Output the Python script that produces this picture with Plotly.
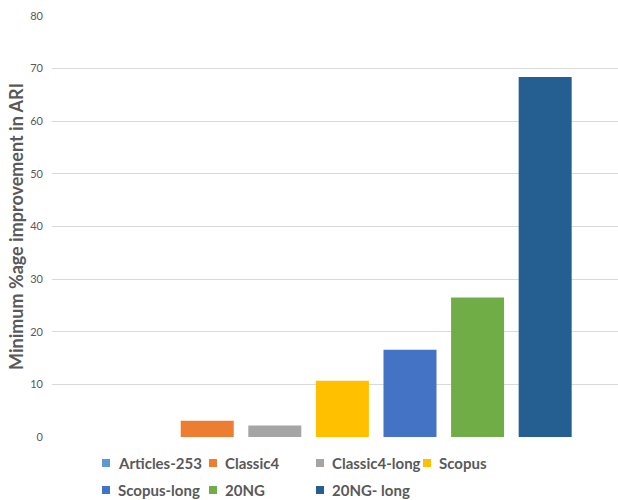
import plotly.graph_objects as go

# Minimum percentage improvement in ARI per dataset
datasets = ["Articles-253", "Classic4", "Classic4-long", "Scopus",
            "Scopus-long", "20NG", "20NG- long"]
improvement = [0.0, 3.1, 2.2, 10.7, 16.6, 26.5, 68.4]
colors = ["#5B9BD5", "#ED7D31", "#A5A5A5", "#FFC000",
          "#4472C4", "#70AD47", "#255E91"]
y_ticks = [0, 10, 20, 30, 40, 50, 60, 70, 80]

TEXT = "#595959"
FONT = "Lato"
W, H = 618, 500
M_L, M_R, M_T, M_B = 52, 0, 16, 63
PLOT_W = W - M_L - M_R
PLOT_H = H - M_T - M_B


def px_x(x):
    """Pixel column -> paper x."""
    return (x - M_L) / PLOT_W


def px_y(y):
    """Pixel row (from top) -> paper y."""
    return (H - M_B - y) / PLOT_H


fig = go.Figure()
for name, val, col in zip(datasets, improvement, colors):
    fig.add_trace(go.Bar(
        x=[""], y=[val], name=name,
        marker=dict(color=col, line=dict(width=0)),
        hovertemplate=f"{name}: %{{y}}<extra></extra>",
    ))

# Legend laid out as a four-column grid under the plot
col_left = [102, 209, 316, 423]
row_mid = [463, 490]
sq = 8
for i, (name, col) in enumerate(zip(datasets, colors)):
    r, c = divmod(i, 4)
    x0, yc = col_left[c], row_mid[r]
    fig.add_shape(type="rect", xref="paper", yref="paper",
                  x0=px_x(x0), x1=px_x(x0 + sq),
                  y0=px_y(yc + sq / 2), y1=px_y(yc - sq / 2),
                  fillcolor=col, line=dict(width=0))
    fig.add_annotation(xref="paper", yref="paper",
                       x=px_x(x0 + 14), y=px_y(yc),
                       xanchor="left", yanchor="middle",
                       text=f"<b>{name}</b>", showarrow=False,
                       font=dict(family=FONT, size=15, color=TEXT))

fig.update_layout(
    width=W, height=H,
    margin=dict(l=M_L, r=M_R, t=M_T, b=M_B),
    paper_bgcolor="white", plot_bgcolor="white",
    barmode="group", bargap=0.2, bargroupgap=0.216,
    showlegend=False,
    font=dict(family=FONT, color=TEXT),
    xaxis=dict(showticklabels=False, showgrid=False, zeroline=False,
               showline=False, range=[-0.491, 0.466], fixedrange=True),
    yaxis=dict(
        range=[0, 80], tickvals=y_ticks,
        showgrid=True, gridcolor="#D9D9D9", gridwidth=1,
        zeroline=False, showline=False,
        tickfont=dict(family=FONT, size=11, color=TEXT),
        ticks="", ticklabelstandoff=8,
        title=dict(text="Minimum %age improvement in ARI",
                   font=dict(family=FONT, size=18, color=TEXT, weight="bold"),
                   standoff=1),
    ),
)

fig.write_html("out.html")
